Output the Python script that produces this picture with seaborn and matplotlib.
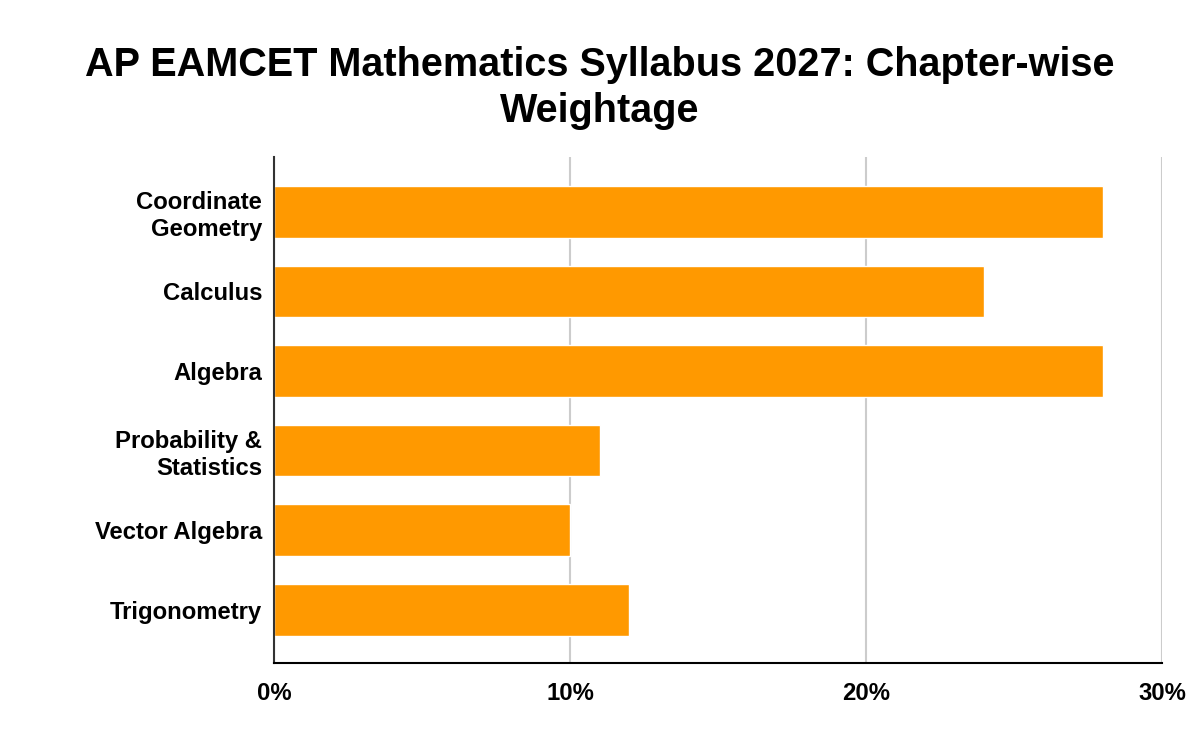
import pandas as pd
import matplotlib.pyplot as plt
import seaborn as sns
from matplotlib.ticker import PercentFormatter

# chapter-wise weightage (%)
chapters = ['Coordinate\nGeometry', 'Calculus', 'Algebra',
            'Probability &\nStatistics', 'Vector Algebra', 'Trigonometry']
weightage = [28, 24, 28, 11, 10, 12]
xticks = [0, 10, 20, 30]

df = pd.DataFrame({'chapter': chapters, 'weightage': weightage})

sns.set_theme(style="white")
plt.rcParams['font.family'] = ['Liberation Sans', 'DejaVu Sans']

fig = plt.figure(figsize=(12, 7.42), dpi=100)
ax = fig.add_axes([0.2283, 0.1065, 0.74, 0.682])

sns.barplot(data=df, x='weightage', y='chapter', color='#FF9900',
            saturation=1, width=0.65, ax=ax)

ax.set_xlim(0, 30)
ax.set_ylim(5.67, -0.69)
ax.set_xticks(xticks)
ax.xaxis.set_major_formatter(PercentFormatter(xmax=100, decimals=0))
ax.grid(axis='x', color='#cccccc', linewidth=1.5)
ax.set_axisbelow(True)
ax.set_xlabel('')
ax.set_ylabel('')

for s in ['top', 'right']:
    ax.spines[s].set_visible(False)
ax.spines['left'].set_color('#333333')
ax.spines['left'].set_linewidth(1.5)
ax.spines['bottom'].set_color('black')
ax.spines['bottom'].set_linewidth(1.5)

ax.tick_params(axis='both', length=0, labelsize=17.2)
ax.tick_params(axis='x', pad=14)
ax.tick_params(axis='y', pad=8.5)
for lab in ax.get_xticklabels() + ax.get_yticklabels():
    lab.set_fontweight('bold')
    lab.set_color('black')
for lab in ax.get_yticklabels():
    lab.set_multialignment('right')

fig.suptitle('AP EAMCET Mathematics Syllabus 2027: Chapter-wise\nWeightage',
             x=0.5, y=0.938, fontsize=28.5, fontweight='bold', linespacing=1.27,
             color='black')

fig.savefig('out.png', dpi=100)
